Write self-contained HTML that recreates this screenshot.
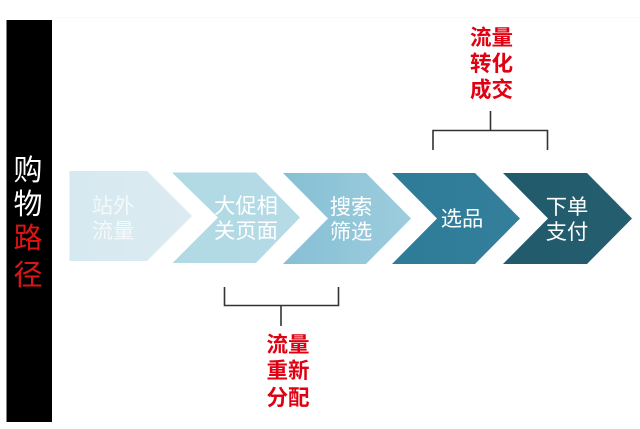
<!DOCTYPE html>
<html lang="zh">
<head>
<meta charset="utf-8">
<style>
html,body{margin:0;padding:0;background:#fff}
svg{display:block;filter:blur(.35px)}
text{font-family:"Liberation Sans","Noto Sans CJK SC",sans-serif;text-anchor:middle}
.w{fill:#fff;font-size:21.3px}
.r{fill:#e00012;font-size:21.5px;font-weight:700}
.s{font-size:29px}
</style>
</head>
<body>
<svg width="640" height="429" viewBox="0 0 640 429" xmlns="http://www.w3.org/2000/svg">
<defs>
<linearGradient id="a" x1="0" x2="1" y1="0" y2="0"><stop offset="0" stop-color="#d6e9f0"/><stop offset="1" stop-color="#dcebf1"/></linearGradient>
<linearGradient id="b" x1="0" x2="1" y1="0" y2="0"><stop offset="0" stop-color="#b1d9e4"/><stop offset="1" stop-color="#b4dbe6"/></linearGradient>
<linearGradient id="c" x1="0" x2="1" y1="0" y2="0"><stop offset="0" stop-color="#86bfd5"/><stop offset="1" stop-color="#9dcddd"/></linearGradient>
<linearGradient id="d" x1="0" x2="1" y1="0" y2="0"><stop offset="0" stop-color="#2e7c97"/><stop offset="1" stop-color="#337f9c"/></linearGradient>
<linearGradient id="e" x1="0" x2="1" y1="0" y2="0"><stop offset="0" stop-color="#215a6b"/><stop offset="1" stop-color="#245e6f"/></linearGradient>
</defs>
<rect x="0" y="0" width="640" height="429" fill="#fff"/>
<rect x="52" y="17" width="588" height="1" fill="#fafafa"/>
<rect x="6.5" y="20" width="45.5" height="402" fill="#000"/>
<text class="s" x="28" y="180" fill="#fff">购</text>
<text class="s" x="28" y="214" fill="#fff">物</text>
<text class="s" x="28" y="248" fill="#dc1414">路</text>
<text class="s" x="28" y="285" fill="#dc1414">径</text>

<polygon points="69.5,171 147,171 192,216 147,261 69.5,261" fill="url(#a)"/>
<polygon points="172,172.5 256,172.5 300,217.5 256,263 172.5,263 218,217.5" fill="url(#b)"/>
<polygon points="283,173 366,173 411,218.5 366,264 283,264 328,218.5" fill="url(#c)"/>
<polygon points="392,173 475,173 520,218.5 475,264 392,264 437,218.5" fill="url(#d)"/>
<polygon points="503,173 587,173 632,218.5 587,264 503,264 548,218.5" fill="url(#e)"/>

<g>
<text class="w" x="113" y="213" fill-opacity=".7">站外</text>
<text class="w" x="113" y="238" fill-opacity=".7">流量</text>
<text class="w" x="246" y="213">大促相</text>
<text class="w" x="246" y="238">关页面</text>
<text class="w" x="351" y="214">搜索</text>
<text class="w" x="351" y="239">筛选</text>
<text class="w" x="462" y="226">选品</text>
<text class="w" x="567" y="214">下单</text>
<text class="w" x="567" y="239">支付</text>
</g>

<g fill="none" stroke="#333" stroke-width="1.6">
<path d="M433,150 V130.5 H547.5 V150"/>
<path d="M490.5,111 V130.5"/>
<path d="M224.5,287 V305.5 H338.5 V287"/>
<path d="M281,305.5 V326"/>
</g>

<text class="r" x="491.5" y="45">流量</text>
<text class="r" x="491.5" y="71">转化</text>
<text class="r" x="491.5" y="97">成交</text>
<text class="r" x="288" y="352">流量</text>
<text class="r" x="288" y="378">重新</text>
<text class="r" x="288" y="405">分配</text>
</svg>
</body>
</html>
